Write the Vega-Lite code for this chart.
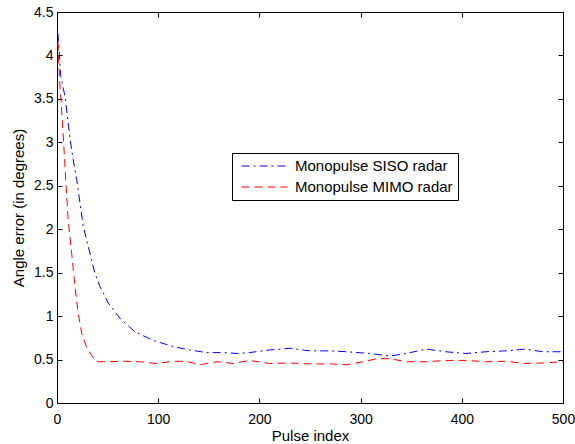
{
  "$schema": "https://vega.github.io/schema/vega-lite/v6.json",
  "width": 506,
  "height": 391,
  "autosize": {"type": "none"},
  "padding": {"left": 57, "top": 12, "right": 12, "bottom": 41},
  "background": "white",
  "config": {
    "view": {"stroke": "black", "strokeWidth": 1},
    "font": "Liberation Sans",
    "axis": {
      "grid": false,
      "domainColor": "black",
      "tickColor": "black",
      "labelColor": "black",
      "titleColor": "black",
      "labelFontSize": 14,
      "titleFontSize": 15,
      "titleFontWeight": "normal",
      "labelFont": "Liberation Sans",
      "titleFont": "Liberation Sans",
      "labelFlush": false,
      "labelOverlap": false,
      "tickSize": -5,
      "domainWidth": 1,
      "tickWidth": 1
    }
  },
  "data": {"values": [
    {"series": "Monopulse SISO radar", "x": 1, "y": 4.25},
    {"series": "Monopulse SISO radar", "x": 3.6, "y": 3.77},
    {"series": "Monopulse SISO radar", "x": 8, "y": 3.52},
    {"series": "Monopulse SISO radar", "x": 13, "y": 3.03},
    {"series": "Monopulse SISO radar", "x": 16, "y": 2.8},
    {"series": "Monopulse SISO radar", "x": 19.5, "y": 2.57},
    {"series": "Monopulse SISO radar", "x": 26, "y": 2.03},
    {"series": "Monopulse SISO radar", "x": 32.6, "y": 1.72},
    {"series": "Monopulse SISO radar", "x": 37.5, "y": 1.49},
    {"series": "Monopulse SISO radar", "x": 42.5, "y": 1.34},
    {"series": "Monopulse SISO radar", "x": 50.7, "y": 1.15},
    {"series": "Monopulse SISO radar", "x": 62.5, "y": 0.97},
    {"series": "Monopulse SISO radar", "x": 77, "y": 0.82},
    {"series": "Monopulse SISO radar", "x": 95, "y": 0.72},
    {"series": "Monopulse SISO radar", "x": 115, "y": 0.65},
    {"series": "Monopulse SISO radar", "x": 131, "y": 0.61},
    {"series": "Monopulse SISO radar", "x": 148, "y": 0.58},
    {"series": "Monopulse SISO radar", "x": 164, "y": 0.58},
    {"series": "Monopulse SISO radar", "x": 178, "y": 0.57},
    {"series": "Monopulse SISO radar", "x": 190, "y": 0.58},
    {"series": "Monopulse SISO radar", "x": 210, "y": 0.61},
    {"series": "Monopulse SISO radar", "x": 230, "y": 0.63},
    {"series": "Monopulse SISO radar", "x": 250, "y": 0.6},
    {"series": "Monopulse SISO radar", "x": 270, "y": 0.6},
    {"series": "Monopulse SISO radar", "x": 286, "y": 0.59},
    {"series": "Monopulse SISO radar", "x": 309, "y": 0.57},
    {"series": "Monopulse SISO radar", "x": 329, "y": 0.54},
    {"series": "Monopulse SISO radar", "x": 345, "y": 0.57},
    {"series": "Monopulse SISO radar", "x": 365, "y": 0.62},
    {"series": "Monopulse SISO radar", "x": 384, "y": 0.59},
    {"series": "Monopulse SISO radar", "x": 404, "y": 0.57},
    {"series": "Monopulse SISO radar", "x": 424, "y": 0.59},
    {"series": "Monopulse SISO radar", "x": 444, "y": 0.6},
    {"series": "Monopulse SISO radar", "x": 462, "y": 0.62},
    {"series": "Monopulse SISO radar", "x": 480, "y": 0.59},
    {"series": "Monopulse SISO radar", "x": 500, "y": 0.59},
    {"series": "Monopulse MIMO radar", "x": 1, "y": 4.15},
    {"series": "Monopulse MIMO radar", "x": 2.3, "y": 3.76},
    {"series": "Monopulse MIMO radar", "x": 4.6, "y": 3.37},
    {"series": "Monopulse MIMO radar", "x": 7, "y": 2.91},
    {"series": "Monopulse MIMO radar", "x": 9, "y": 2.49},
    {"series": "Monopulse MIMO radar", "x": 11, "y": 2.11},
    {"series": "Monopulse MIMO radar", "x": 14.5, "y": 1.72},
    {"series": "Monopulse MIMO radar", "x": 17.8, "y": 1.34},
    {"series": "Monopulse MIMO radar", "x": 21, "y": 1.03},
    {"series": "Monopulse MIMO radar", "x": 24.4, "y": 0.8},
    {"series": "Monopulse MIMO radar", "x": 29, "y": 0.65},
    {"series": "Monopulse MIMO radar", "x": 34, "y": 0.55},
    {"series": "Monopulse MIMO radar", "x": 39, "y": 0.475},
    {"series": "Monopulse MIMO radar", "x": 49, "y": 0.475},
    {"series": "Monopulse MIMO radar", "x": 66, "y": 0.48},
    {"series": "Monopulse MIMO radar", "x": 82, "y": 0.475},
    {"series": "Monopulse MIMO radar", "x": 98, "y": 0.455},
    {"series": "Monopulse MIMO radar", "x": 115, "y": 0.48},
    {"series": "Monopulse MIMO radar", "x": 128, "y": 0.48},
    {"series": "Monopulse MIMO radar", "x": 141, "y": 0.44},
    {"series": "Monopulse MIMO radar", "x": 158, "y": 0.475},
    {"series": "Monopulse MIMO radar", "x": 174, "y": 0.455},
    {"series": "Monopulse MIMO radar", "x": 190, "y": 0.49},
    {"series": "Monopulse MIMO radar", "x": 210, "y": 0.455},
    {"series": "Monopulse MIMO radar", "x": 230, "y": 0.46},
    {"series": "Monopulse MIMO radar", "x": 250, "y": 0.45},
    {"series": "Monopulse MIMO radar", "x": 270, "y": 0.45},
    {"series": "Monopulse MIMO radar", "x": 286, "y": 0.44},
    {"series": "Monopulse MIMO radar", "x": 303, "y": 0.475},
    {"series": "Monopulse MIMO radar", "x": 316, "y": 0.51},
    {"series": "Monopulse MIMO radar", "x": 329, "y": 0.51},
    {"series": "Monopulse MIMO radar", "x": 345, "y": 0.475},
    {"series": "Monopulse MIMO radar", "x": 365, "y": 0.475},
    {"series": "Monopulse MIMO radar", "x": 384, "y": 0.49},
    {"series": "Monopulse MIMO radar", "x": 404, "y": 0.49},
    {"series": "Monopulse MIMO radar", "x": 424, "y": 0.475},
    {"series": "Monopulse MIMO radar", "x": 444, "y": 0.48},
    {"series": "Monopulse MIMO radar", "x": 462, "y": 0.455},
    {"series": "Monopulse MIMO radar", "x": 480, "y": 0.46},
    {"series": "Monopulse MIMO radar", "x": 500, "y": 0.475}
  ]},
  "layer": [
    {
      "mark": {"type": "line", "strokeWidth": 1, "clip": true},
      "encoding": {
        "x": {"field": "x", "type": "quantitative", "scale": {"domain": [0, 500], "nice": false, "zero": false},
              "axis": {"title": "Pulse index", "values": [0, 100, 200, 300, 400, 500], "labelPadding": 14, "titlePadding": 2, "format": "d"}},
        "y": {"field": "y", "type": "quantitative", "scale": {"domain": [0, 4.5], "nice": false},
              "axis": {"title": "Angle error (in degrees)", "values": [0, 0.5, 1, 1.5, 2, 2.5, 3, 3.5, 4, 4.5], "format": "~g", "labelPadding": 9, "titlePadding": 7}},
        "color": {"field": "series", "type": "nominal",
                  "scale": {"domain": ["Monopulse SISO radar", "Monopulse MIMO radar"], "range": ["#0000ff", "#ff0000"]},
                  "legend": {
                    "title": null, "orient": "none", "legendX": 175, "legendY": 141,
                    "strokeColor": "black", "fillColor": "white", "padding": 5,
                    "symbolType": "M-0.47,0H5.67", "symbolSize": 225, "symbolStrokeWidth": 1,
                    "labelFontSize": 15, "labelFont": "Liberation Sans", "labelColor": "black",
                    "rowPadding": 5, "labelOffset": 42, "cornerRadius": 0
                  }},
        "strokeDash": {"field": "series", "type": "nominal",
                  "scale": {"domain": ["Monopulse SISO radar", "Monopulse MIMO radar"], "range": [[8, 4, 2, 4], [8, 5]]},
                  "legend": null}
      }
    },
    {
      "mark": {"type": "line", "opacity": 0},
      "encoding": {
        "x": {"field": "x", "type": "quantitative", "axis": {"orient": "top", "labels": false, "title": null, "domain": false, "values": [0, 100, 200, 300, 400, 500]}},
        "y": {"field": "y", "type": "quantitative", "axis": {"orient": "right", "labels": false, "title": null, "domain": false, "values": [0, 0.5, 1, 1.5, 2, 2.5, 3, 3.5, 4, 4.5]}}
      }
    }
  ],
  "resolve": {"axis": {"x": "independent", "y": "independent"}}
}
